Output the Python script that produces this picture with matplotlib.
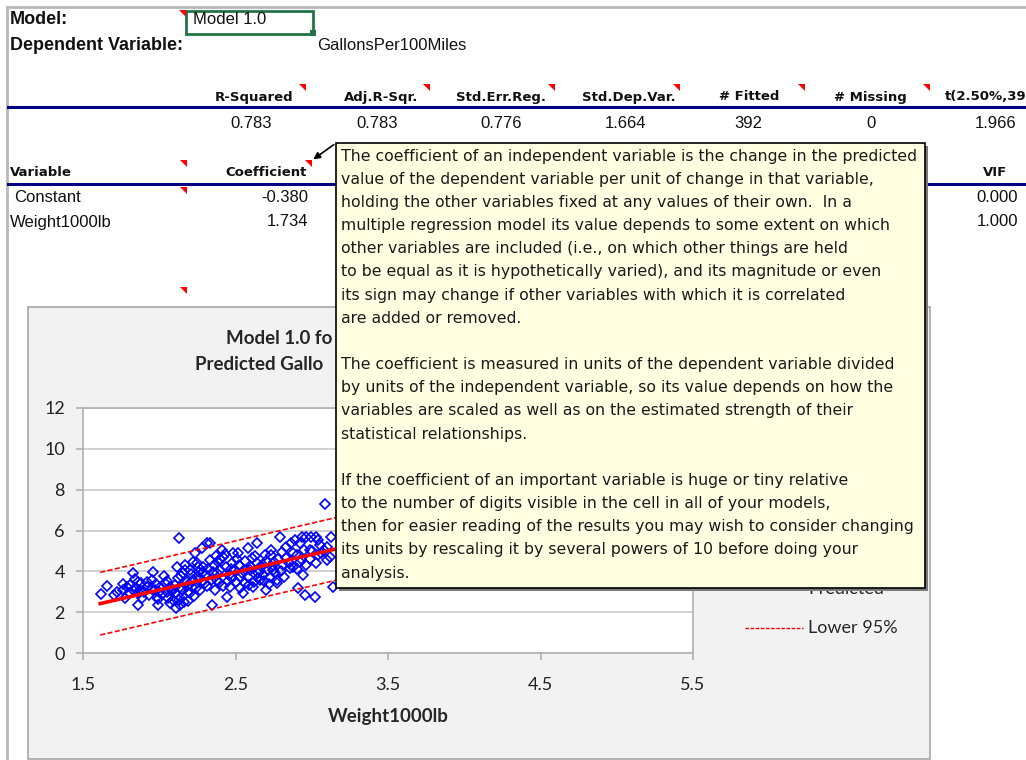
import matplotlib
matplotlib.use("agg")
import matplotlib.pyplot as plt
from matplotlib.patches import Rectangle, Polygon, FancyArrowPatch
from matplotlib.lines import Line2D
from matplotlib.transforms import Affine2D

W, H = 1026, 760

# summary statistics row
stat_names = ["R-Squared", "Adj.R-Sqr.", "Std.Err.Reg.", "Std.Dep.Var.",
              "# Fitted", "# Missing"]
stat_values = ["0.783", "0.783", "0.776", "1.664", "392", "0", "1.966"]
t_name = "t(2.50%,390)"

# coefficient table
var_names = ["Constant", "Weight1000lb"]
coefs = ["-0.380", "1.734"]
vifs = ["0.000", "1.000"]

# actual values (visible part of the cloud)
weight = [1.62, 1.655, 1.70, 1.72, 1.765, 1.776, 1.79, 1.80, 1.808, 1.83,
          1.83, 1.841, 1.85, 1.863, 1.863, 1.874, 1.885, 1.88, 1.90, 1.917,
          1.93, 1.95, 1.95, 1.961, 1.972, 1.98, 1.983, 1.994, 2.00, 2.005,
          2.02, 2.038, 2.049, 2.05, 2.06, 2.071, 2.08, 2.092, 2.10, 2.103,
          2.114, 2.12, 2.125, 2.131, 2.136, 2.136, 2.15, 2.158, 2.16, 2.169,
          2.18, 2.18, 2.19, 2.20, 2.201, 2.212, 2.22, 2.223, 2.234, 2.24,
          2.245, 2.256, 2.26, 2.267, 2.278, 2.28, 2.289, 2.30, 2.30, 2.311,
          2.32, 2.333, 2.34, 2.344, 2.36, 2.365, 2.376, 2.38, 2.387, 2.398,
          2.40, 2.409, 2.42, 2.42, 2.44, 2.441, 2.46, 2.463, 2.474, 2.48,
          2.485, 2.496, 2.50, 2.517, 2.52, 2.528, 2.54, 2.55, 2.56, 2.561,
          2.58, 2.583, 2.594, 2.60, 2.605, 2.616, 2.62, 2.638, 2.64, 2.648,
          2.659, 2.66, 2.68, 2.681, 2.692, 2.70, 2.703, 2.72, 2.725, 2.736,
          2.74, 2.747, 2.76, 2.769, 2.78, 2.791, 2.80, 2.802, 2.812, 2.82,
          2.834, 2.85, 2.867, 2.878, 2.88, 2.90, 2.90, 2.911, 2.922, 2.93,
          2.933, 2.943, 2.954, 2.96, 2.965, 2.987, 2.998, 3.00, 3.02, 3.03,
          3.031, 3.042, 3.053, 3.06, 3.086, 3.097, 3.10, 3.12, 3.129, 3.14,
          2.14, 2.17, 2.21, 2.25, 2.27, 2.29, 2.31, 2.33, 2.35, 2.37,
          2.39, 2.43, 2.45, 2.47, 2.51, 2.53, 2.57, 2.59, 2.63, 2.65,
          2.67, 2.69, 2.71, 2.73, 2.75, 2.77, 2.83, 2.86, 2.89, 2.92,
          2.95, 2.99, 3.04, 3.08, 1.76, 1.87, 1.92, 1.99, 2.03, 2.07,
          2.11, 2.13, 2.19, 2.23]
gallons = [2.89, 3.30, 2.85, 3.00, 3.09, 2.68, 3.25, 2.95, 3.33, 3.91,
           3.09, 3.61, 3.20, 3.50, 2.35, 3.09, 2.68, 3.45, 3.00, 3.25,
           2.85, 3.58, 3.15, 3.99, 3.09, 3.40, 2.76, 2.35, 3.00, 3.25,
           2.90, 3.42, 3.01, 3.55, 2.68, 3.25, 3.10, 2.60, 3.35, 2.92,
           4.23, 2.85, 3.66, 5.65, 3.25, 2.35, 3.10, 3.91, 2.50, 4.32,
           3.50, 3.30, 3.01, 2.95, 4.07, 3.25, 3.60, 4.48, 4.89, 3.20,
           3.74, 4.23, 3.95, 3.09, 5.13, 3.50, 3.99, 3.42, 3.80, 5.38,
           4.10, 5.38, 3.60, 2.35, 4.30, 3.09, 3.58, 3.90, 4.48, 4.07,
           4.60, 5.05, 4.72, 3.30, 4.20, 2.76, 3.80, 3.25, 3.66, 4.40,
           4.89, 4.07, 3.50, 4.89, 4.30, 3.74, 3.90, 2.92, 4.50, 3.42,
           3.70, 5.13, 4.07, 4.20, 4.64, 3.25, 3.50, 5.38, 4.40, 3.91,
           3.58, 4.00, 3.80, 4.32, 4.81, 4.50, 3.09, 3.40, 3.74, 4.81,
           4.20, 4.07, 3.90, 3.42, 4.60, 5.69, 4.00, 4.97, 4.32, 3.70,
           4.64, 4.40, 5.38, 4.23, 4.90, 4.81, 4.10, 3.17, 5.38, 4.60,
           5.69, 3.83, 2.85, 4.30, 5.69, 5.05, 5.69, 5.00, 2.76, 4.40,
           5.69, 4.81, 5.30, 4.90, 7.30, 4.56, 5.20, 4.70, 5.69, 3.25,
           3.75, 4.05, 3.85, 4.40, 3.65, 4.20, 3.30, 4.55, 3.95, 4.75,
           3.45, 4.85, 3.55, 4.10, 4.60, 3.20, 4.05, 3.35, 4.75, 3.65,
           4.25, 3.55, 4.05, 5.05, 4.45, 3.60, 5.20, 4.15, 5.55, 4.45,
           5.05, 4.60, 5.55, 5.05, 3.40, 2.95, 3.50, 2.65, 3.75, 2.45,
           2.20, 2.60, 2.55, 2.80]

# fitted line and 95% band (end points)
line_x = [1.613, 5.140]
predicted = [2.42, 8.53]
upper95 = [3.95, 10.07]
lower95 = [0.88, 7.00]

tooltip_lines = [
    "The coefficient of an independent variable is the change in the predicted",
    "value of the dependent variable per unit of change in that variable,",
    "holding the other variables fixed at any values of their own.  In a",
    "multiple regression model its value depends to some extent on which",
    "other variables are included (i.e., on which other things are held",
    "to be equal as it is hypothetically varied), and its magnitude or even",
    "its sign may change if other variables with which it is correlated",
    "are added or removed.",
    "",
    "The coefficient is measured in units of the dependent variable divided",
    "by units of the independent variable, so its value depends on how the",
    "variables are scaled as well as on the estimated strength of their",
    "statistical relationships.",
    "",
    "If the coefficient of an important variable is huge or tiny relative",
    "to the number of digits visible in the cell in all of your models,",
    "then for easier reading of the results you may wish to consider changing",
    "its units by rescaling it by several powers of 10 before doing your",
    "analysis.",
]

fig = plt.figure(figsize=(W / 100, H / 100), dpi=100)
fig.patch.set_facecolor("white")
# pixel coordinates, origin top-left
px = Affine2D().scale(1 / W, -1 / H).translate(0, 1) + fig.transFigure

CELL = "Liberation Sans"
HEAD = "DejaVu Sans"
CHART = "Lato"
TIP = "DejaVu Sans"


def cell_text(x, y, s, **kw):
    kw.setdefault("fontsize", 12)
    kw.setdefault("family", CELL)
    kw.setdefault("va", "center")
    return fig.text(x, y, s, transform=px, color="#111111", **kw)


def flag(x, y):
    fig.add_artist(Polygon([(x - 7, y), (x, y), (x, y + 7)], closed=True,
                           transform=px, color="red", lw=0, zorder=3))


def hline(y, x0, x1, color, lw, z=2):
    fig.add_artist(Line2D([x0, x1], [y, y], transform=px, color=color,
                          lw=lw, zorder=z))


# sheet frame
hline(7, 7, W, "#b8b8b8", 2)
fig.add_artist(Line2D([7, 7], [7, H], transform=px, color="#b8b8b8", lw=2))

# header cells
cell_text(10, 19, "Model:", fontsize=13, weight="bold")
cell_text(10, 45, "Dependent Variable:", fontsize=13, weight="bold")
fig.add_artist(Rectangle((186, 11), 127, 23, transform=px, fill=False,
                         ec="#217346", lw=2, zorder=3))
fig.add_artist(Rectangle((310, 30), 6, 6, transform=px, color="#217346",
                         lw=0, zorder=3))
cell_text(193, 20, "Model 1.0", fontsize=12)
cell_text(317, 46, "GallonsPer100Miles", fontsize=12)

stat_right = [293, 418, 546, 676, 779, 907]
value_right = [272, 398, 522, 646, 762, 876, 1016]
for name, r in zip(stat_names, stat_right):
    cell_text(r, 97, name, family=HEAD, weight="bold", fontsize=9.5, ha="right")
t_lab = cell_text(945, 97, t_name, family=HEAD, weight="bold", fontsize=9.5)
t_lab.set_clip_on(False)
for v, r in zip(stat_values, value_right):
    cell_text(r, 123, v, ha="right")
hline(107, 8, W, "#000080", 2.2)

cell_text(10, 173, "Variable", family=HEAD, weight="bold", fontsize=9.5)
cell_text(307, 173, "Coefficient", family=HEAD, weight="bold", fontsize=9.5,
          ha="right")
cell_text(1007, 173, "VIF", family=HEAD, weight="bold", fontsize=9.5, ha="right")
hline(184, 8, W, "#000080", 2.2)
for i, (nm, c, v) in enumerate(zip(var_names, coefs, vifs)):
    y = 198 + i * 24
    cell_text(14 if i == 0 else 10, y, nm)
    cell_text(308, y, c, ha="right")
    cell_text(1018, y, v, ha="right")

for fx, fy in [(186, 10), (306, 84), (430, 84), (555, 84), (680, 84),
               (805, 84), (930, 84), (187, 160), (187, 187), (312, 160),
               (187, 287)]:
    flag(fx, fy)

# chart area
fig.add_artist(Rectangle((28, 307), 902, 452, transform=px, fc="#f2f2f2",
                         ec="#a6a6a6", lw=1.2, zorder=-1))
fig.text(226, 339, "Model 1.0 fo", transform=px, family=CHART,
         weight="bold", fontsize=13.5, color="#262626", va="center")
fig.text(195, 365, "Predicted Gallo", transform=px, family=CHART,
         weight="bold", fontsize=13.5, color="#262626", va="center")

ax = fig.add_axes([83 / W, 1 - 653 / H, 610 / W, 245 / H])
ax.set_facecolor("white")
ax.plot(weight, gallons, ls="none", marker="D", ms=5.2, mfc="none",
        mec="#0000ff", mew=1.2, label="Actual")
ax.plot(line_x, upper95, color="red", ls=(0, (3, 1.5)), lw=1.2,
        label="Upper 95%")
ax.plot(line_x, predicted, color="red", lw=2.6, label="Predicted")
ax.plot(line_x, lower95, color="red", ls=(0, (3, 1.5)), lw=1.2,
        label="Lower 95%")
ax.set_xlim(1.5, 5.5)
ax.set_ylim(0, 12)
ax.set_xticks([1.5, 2.5, 3.5, 4.5, 5.5])
ax.set_yticks(range(0, 13, 2))
ax.yaxis.grid(True, color="#c8c8c8", lw=1.2)
ax.set_axisbelow(True)
for s in ax.spines.values():
    s.set_color("#b0b0b0")
    s.set_linewidth(1.2)
ax.tick_params(colors="#b0b0b0", labelcolor="#222222", length=5, width=1.2,
               labelsize=13)
for lab in ax.get_xticklabels() + ax.get_yticklabels():
    lab.set_family(CHART)
ax.tick_params(axis="x", pad=12)
ax.tick_params(axis="y", pad=8)
ax.set_xlabel("Weight1000lb", family=CHART, weight="bold", fontsize=13.5,
              color="#262626", labelpad=11)

# legend (only the lower part shows under the comment box)
fig.text(808, 589, "Predicted", transform=px, family=CHART, fontsize=13,
         color="#262626", va="center")
fig.add_artist(Line2D([745, 803], [628, 628], transform=px, color="red",
                      ls=(0, (2.5, 1.2)), lw=1.0))
fig.text(808, 628, "Lower 95%", transform=px, family=CHART, fontsize=13,
         color="#262626", va="center")

# comment pop-up
fig.add_artist(Rectangle((339, 146), 589, 445, transform=px, fc="#7a7a7a",
                         lw=0, zorder=9))
fig.add_artist(Rectangle((336, 143), 589, 445, transform=px, fc="#ffffe1",
                         ec="#000000", lw=1.2, zorder=10))
for i, line in enumerate(tooltip_lines):
    fig.text(341, 156 + i * 23.17, line, transform=px, family=TIP,
             fontsize=11.35, color="#1a1a1a", va="center", zorder=11)
fig.add_artist(FancyArrowPatch((336, 143), (311, 161), transform=px,
                               arrowstyle="-|>", mutation_scale=10,
                               color="black", lw=1.2, zorder=11))

fig.savefig("out.png", dpi=100)
